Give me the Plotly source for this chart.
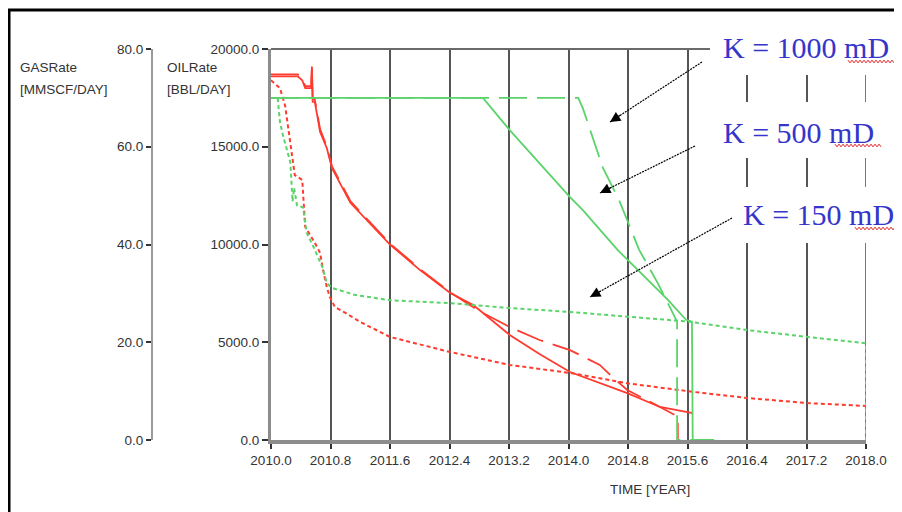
import plotly.graph_objects as go

# ---------------- DATA ----------------
# Oil rate [BBL/DAY]
years_oil_k1000 = [2010.00, 2010.36, 2010.42, 2010.46, 2010.54, 2010.55, 2010.56, 2010.59, 2010.66,
                   2010.75, 2010.82, 2010.89, 2011.07, 2011.60, 2012.00, 2012.41, 2012.80, 2013.21,
                   2013.61, 2014.02, 2014.42, 2014.59, 2014.79, 2015.23, 2015.43, 2015.47, 2015.47]
oil_k1000 = [18700, 18700, 18500, 18100, 18100, 19000, 17500, 17400, 15900,
             15000, 14000, 13500, 12200, 10050, 8750, 7550, 6600, 5780,
             5115, 4600, 3840, 3220, 2560, 1690, 1280, 1200, 0]

years_oil_k500 = [2010.00, 2010.36, 2010.42, 2010.46, 2010.54, 2010.55, 2010.56, 2010.59, 2010.66,
                  2010.75, 2010.82, 2010.89, 2011.07, 2011.60, 2012.00, 2012.41, 2012.72, 2013.21,
                  2013.61, 2014.02, 2014.42, 2014.79, 2015.23, 2015.67]
oil_k500 = [18600, 18600, 18400, 18000, 18000, 19100, 17300, 17290, 15760,
            14940, 13900, 13400, 12120, 10000, 8700, 7520, 6900, 5370,
            4400, 3480, 2900, 2400, 1690, 1380]

years_oil_k150 = [2010.00, 2010.12, 2010.19, 2010.23, 2010.28, 2010.32, 2010.42, 2010.46, 2010.59,
                  2010.66, 2010.70, 2010.75, 2010.79, 2010.86, 2011.00, 2011.20, 2011.60, 2012.41,
                  2013.21, 2014.02, 2014.79, 2015.68, 2016.40, 2017.21, 2018.00, 2018.00]
oil_k150 = [18400, 18000, 17100, 15960, 14580, 13550, 13300, 10900, 10080,
            9570, 8700, 7830, 7320, 6800, 6500, 6040, 5270, 4500,
            3840, 3430, 2900, 2460, 2150, 1890, 1740, 0]

# Gas rate [MMSCF/DAY]
years_gas_k1000 = [2010.00, 2014.13, 2014.19, 2014.32, 2014.46, 2014.68, 2014.95, 2015.20,
                   2015.34, 2015.46, 2015.46, 2015.90]
gas_k1000 = [70.0, 70.0, 68.0, 62.0, 55.8, 49.1, 38.9, 32.1, 28.0, 24.2, 0.0, 0.0]

years_gas_k500 = [2010.00, 2012.85, 2013.21, 2014.02, 2014.19, 2014.66, 2015.34, 2015.58,
                  2015.66, 2015.67, 2015.96]
gas_k500 = [70.0, 70.0, 63.4, 49.7, 47.1, 38.9, 28.6, 24.6, 24.2, 0.0, 0.0]

years_gas_k150 = [2010.00, 2010.09, 2010.12, 2010.16, 2010.26, 2010.29, 2010.31, 2010.35, 2010.43,
                  2010.48, 2010.59, 2010.69, 2010.75, 2010.82, 2011.04, 2011.12, 2011.60, 2012.41,
                  2013.21, 2014.02, 2015.63, 2016.40, 2017.21, 2018.00, 2018.00]
gas_k150 = [70.0, 70.0, 65.1, 62.4, 56.8, 48.8, 51.6, 48.0, 47.6,
            42.4, 38.9, 35.4, 32.1, 31.1, 30.1, 29.7, 28.6, 28.0,
            27.0, 26.2, 24.2, 22.5, 21.1, 19.8, 0.0]

oil_ticks = [0, 5000, 10000, 15000, 20000]
gas_ticks = [0, 20, 40, 60, 80]
case_labels = ["K = 1000 mD", "K = 500 mD", "K = 150 mD"]

# ---------------- LAYOUT HELPERS ----------------
# The page body has an 8px margin, so the figure is drawn 8px smaller and all
# positions below are page pixels shifted by OFF.
OFF = 8
PAGE_W, PAGE_H = 902, 512
W, H = PAGE_W - OFF, PAGE_H - OFF
PL, PR, PT, PB = 271, 866, 49, 440   # plot area in page pixels


def fx(px):
    return (px - OFF) / W


def fy(py):
    return (PB - py) / (PB - PT)


RED = "#ff3b2f"
GREEN = "#5ad46a"
TICKFONT = dict(family="Liberation Sans, Arial, sans-serif", size=13.5, color="#333333")

fig = go.Figure()

fig.add_trace(go.Scatter(x=years_gas_k150, y=gas_k150, yaxis="y2", mode="lines",
                         line=dict(color=GREEN, width=2, dash="4px,3px")))
fig.add_trace(go.Scatter(x=years_gas_k1000, y=gas_k1000, yaxis="y2", mode="lines",
                         line=dict(color=GREEN, width=1.8, dash="28px,10px")))
fig.add_trace(go.Scatter(x=years_gas_k500, y=gas_k500, yaxis="y2", mode="lines",
                         line=dict(color=GREEN, width=1.8)))
fig.add_trace(go.Scatter(x=years_oil_k150, y=oil_k150, mode="lines",
                         line=dict(color=RED, width=2, dash="4px,3px")))
fig.add_trace(go.Scatter(x=years_oil_k1000, y=oil_k1000, mode="lines",
                         line=dict(color=RED, width=1.8, dash="28px,10px")))
fig.add_trace(go.Scatter(x=years_oil_k500, y=oil_k500, mode="lines",
                         line=dict(color=RED, width=1.8)))

fig.update_layout(
    template="none",
    width=W, height=H,
    margin=dict(l=0, r=0, t=PT - OFF, b=PAGE_H - PB, pad=0),
    paper_bgcolor="white", plot_bgcolor="white",
    showlegend=False,
    xaxis=dict(
        domain=[fx(PL), fx(PR)], range=[2010, 2018], automargin=False,
        tick0=2010, dtick=0.8, tickformat=".1f", tickfont=TICKFONT,
        ticks="outside", ticklen=5, tickwidth=1.5, tickcolor="#333333",
        showline=True, linecolor="#8c8c8c", linewidth=4,
        showgrid=True, gridcolor="#555555", gridwidth=1.6, zeroline=False,
        layer="below traces",
    ),
    yaxis=dict(
        range=[0, 20000], automargin=False, tickvals=oil_ticks, tickformat=".1f",
        tickfont=TICKFONT, ticks="outside", ticklen=6, tickwidth=1.5, tickcolor="#333333",
        showline=True, linecolor="#8c8c8c", linewidth=3,
        showgrid=False, zeroline=False,
    ),
    yaxis2=dict(
        range=[0, 80], overlaying="y", anchor="free", position=fx(152), side="left",
        automargin=False, tickvals=gas_ticks, tickformat=".1f", tickfont=TICKFONT,
        ticks="outside", ticklen=5, tickwidth=1.5, tickcolor="#333333",
        showline=True, linecolor="#9a9a9a", linewidth=2,
        showgrid=False, zeroline=False,
    ),
)

shapes = []
# gridline at the right end of the time axis (2018.0)
shapes.append(dict(type="line", xref="x", yref="paper", x0=2018, x1=2018, y0=0, y1=1,
                   line=dict(color="#555555", width=1.6), layer="below"))
# outer frame (left and top)
shapes.append(dict(type="line", xref="paper", yref="paper", x0=fx(9), x1=fx(9), y0=fy(10), y1=fy(520),
                   line=dict(color="black", width=3)))
shapes.append(dict(type="line", xref="paper", yref="paper", x0=fx(8), x1=fx(910), y0=fy(10), y1=fy(10),
                   line=dict(color="black", width=3)))
# top line of plot area
shapes.append(dict(type="line", xref="paper", yref="paper", x0=fx(PL), x1=fx(PR), y0=1, y1=1,
                   line=dict(color="#6a6a6a", width=2), layer="above"))
# white label boxes
for (x0, x1, y0, y1) in [(710, 910, 18, 75), (712, 895, 102, 158), (738, 910, 187, 243)]:
    shapes.append(dict(type="rect", xref="paper", yref="paper", x0=fx(x0), x1=fx(x1),
                       y0=fy(y1), y1=fy(y0), fillcolor="white", line=dict(width=0), layer="above"))
# dotted arrow shafts
arrows = [((702, 62), (610, 122)), ((695, 146), (600, 193)), ((732, 218), (590, 297))]
for (tx, ty), (hx, hy) in arrows:
    shapes.append(dict(type="line", xref="paper", yref="paper", x0=fx(tx), y0=fy(ty),
                       x1=fx(hx), y1=fy(hy), line=dict(color="black", width=1.2, dash="2px,1px"),
                       layer="above"))


# red wavy spell-check underlines
def zigzag(xa, xb, yc):
    pts = []
    x = xa
    up = True
    while x <= xb:
        pts.append((x, yc - 1.3 if up else yc + 1.3))
        up = not up
        x += 2.0
    return "M " + " L ".join(f"{fx(a):.5f},{fy(b):.5f}" for a, b in pts)


for (xa, xb, yc) in [(848, 895, 61.5), (835, 882, 145.5), (855, 901, 228.5)]:
    shapes.append(dict(type="path", xref="paper", yref="paper", path=zigzag(xa, xb, yc),
                       line=dict(color="#e02020", width=1), layer="above"))

fig.update_layout(shapes=shapes)

annotations = []
# arrow heads
for (tx, ty), (hx, hy) in arrows:
    dx, dy = tx - hx, ty - hy
    ln = (dx * dx + dy * dy) ** 0.5
    annotations.append(dict(xref="paper", yref="paper", x=fx(hx), y=fy(hy), text="",
                            showarrow=True, arrowhead=2, arrowsize=1.6, arrowwidth=1.3,
                            arrowcolor="black", ax=dx / ln * 14, ay=dy / ln * 14))
# case labels
for label, (lx, ly) in zip(case_labels, [(721, 47.5), (721, 132), (741, 214.5)]):
    annotations.append(dict(xref="paper", yref="paper", x=fx(lx), y=fy(ly), text=label,
                            xanchor="left", yanchor="middle", showarrow=False,
                            font=dict(family="Liberation Serif, Times New Roman, serif",
                                      size=30, color="#3535cc")))
# axis titles
AX_FONT = dict(family="Liberation Sans, Arial, sans-serif", size=13.5, color="#333333")
for txt, x, y in [("GASRate", 18, 68), ("[MMSCF/DAY]", 18, 89),
                  ("OILRate", 165, 68), ("[BBL/DAY]", 165, 89)]:
    annotations.append(dict(xref="paper", yref="paper", x=fx(x), y=fy(y), text=txt,
                            xanchor="left", yanchor="middle", showarrow=False, font=AX_FONT))
annotations.append(dict(xref="paper", yref="paper", x=fx(650), y=fy(489), text="TIME [YEAR]",
                        xanchor="center", yanchor="middle", showarrow=False, font=AX_FONT))
fig.update_layout(annotations=annotations)

fig.write_html("out.html")
